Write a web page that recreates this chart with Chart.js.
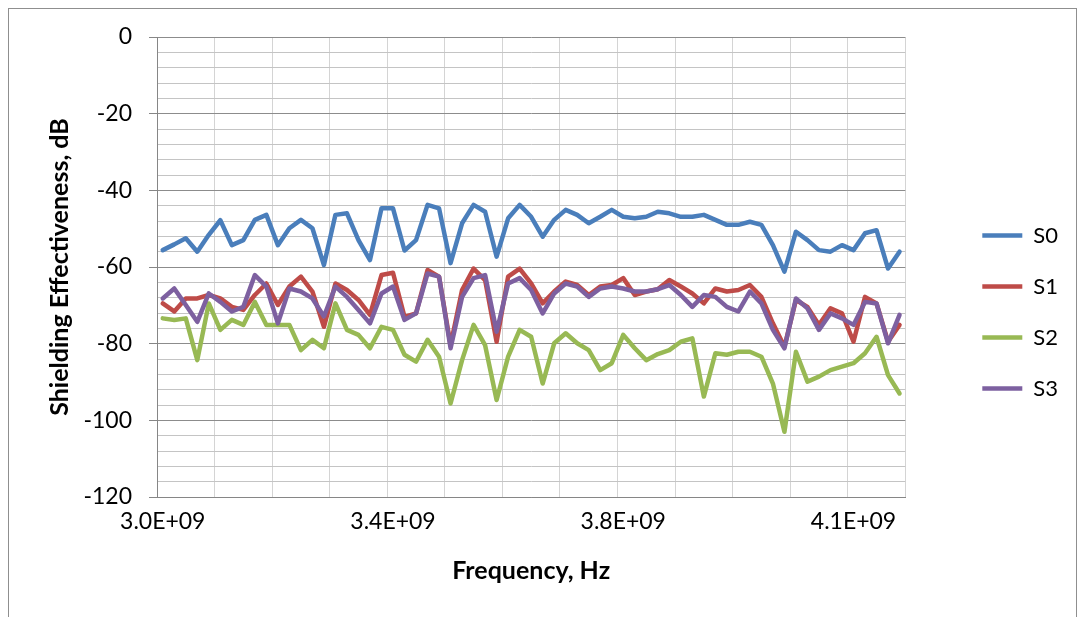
<!DOCTYPE html>
<html>
<head>
<meta charset="utf-8">
<script src="https://cdn.jsdelivr.net/npm/chart.js@4/dist/chart.umd.min.js"></script>
<style>
  body { margin: 0; background: #fff; }
  #wrap { position: relative; width: 1084px; height: 617px; overflow: hidden; }
  #frame { position: absolute; left: 8px; top: 8px; width: 1067px; height: 640px; border: 1px solid #8f8f8f; pointer-events: none; }
  canvas { position: absolute; left: 0; top: 0; }
</style>
</head>
<body>
<div id="wrap">
  <canvas id="se-chart" width="1084" height="617"></canvas>
  <div id="frame"></div>
</div>
<script>
// frequency points, MHz
const freqMHz = [
  3000, 3018.75, 3037.5, 3056.25, 3075, 3093.75, 3112.5, 3131.25, 3150, 3168.75,
  3187.5, 3206.25, 3225, 3243.75, 3262.5, 3281.25, 3300, 3318.75, 3337.5, 3356.25,
  3375, 3393.75, 3412.5, 3431.25, 3450, 3468.75, 3487.5, 3506.25, 3525, 3543.75,
  3562.5, 3581.25, 3600, 3618.75, 3637.5, 3656.25, 3675, 3693.75, 3712.5, 3731.25,
  3750, 3768.75, 3787.5, 3806.25, 3825, 3843.75, 3862.5, 3881.25, 3900, 3918.75,
  3937.5, 3956.25, 3975, 3993.75, 4012.5, 4031.25, 4050, 4068.75, 4087.5, 4106.25,
  4125, 4143.75, 4162.5, 4181.25, 4200
];

const s0 = [
  -55.6, -54.1, -52.5, -56.0, -51.6, -47.8, -54.3, -53.0, -47.7, -46.4,
  -54.3, -49.9, -47.7, -49.9, -59.5, -46.4, -46.0, -53.0, -58.2, -44.7,
  -44.7, -55.7, -53.0, -43.8, -44.7, -59.0, -48.6, -43.8, -45.6, -57.3,
  -47.3, -43.8, -46.9, -52.1, -47.7, -45.1, -46.4, -48.6, -46.9, -45.1,
  -46.9, -47.3, -46.9, -45.6, -46.0, -46.9, -46.9, -46.4, -47.7, -49.0,
  -49.0, -48.2, -49.0, -54.3, -61.2, -50.8, -53.0, -55.6, -56.0, -54.3,
  -55.6, -51.2, -50.4, -60.4, -56.0
];
const s1 = [
  -69.5, -71.6, -68.2, -68.2, -67.3, -68.2, -70.4, -71.2, -67.3, -64.3,
  -69.9, -65.1, -62.5, -66.4, -75.6, -64.3, -66.0, -68.6, -72.5, -62.1,
  -61.5, -73.0, -72.1, -60.8, -62.5, -80.4, -66.0, -60.4, -63.4, -79.5,
  -62.5, -60.4, -64.3, -69.5, -66.4, -63.8, -64.7, -67.3, -65.1, -64.7,
  -62.9, -67.3, -66.4, -65.8, -63.4, -65.1, -66.9, -69.5, -65.6, -66.4,
  -66.0, -64.7, -67.8, -74.7, -80.8, -68.6, -70.4, -75.1, -70.8, -72.1,
  -79.5, -67.8, -69.5, -79.5, -75.1
];
const s2 = [
  -73.4, -73.8, -73.4, -84.3, -69.5, -76.4, -73.8, -75.1, -69.1, -75.1,
  -75.1, -75.1, -81.7, -79.0, -81.2, -69.5, -76.4, -77.7, -81.2, -75.6,
  -76.4, -82.9, -84.7, -79.0, -83.4, -95.6, -84.3, -75.1, -80.4, -94.7,
  -83.4, -76.4, -78.2, -90.4, -79.9, -77.3, -79.9, -81.7, -86.9, -85.1,
  -77.7, -81.2, -84.3, -82.7, -81.7, -79.5, -78.6, -93.8, -82.5, -82.9,
  -82.1, -82.1, -83.4, -90.4, -103.0, -82.1, -89.9, -88.6, -86.9, -86.0,
  -85.1, -82.5, -78.2, -88.2, -93.0
];
const s3 = [
  -68.2, -65.6, -69.9, -74.3, -66.9, -69.1, -71.6, -70.4, -62.1, -65.1,
  -74.7, -65.6, -66.4, -68.2, -72.9, -65.1, -67.8, -71.2, -74.7, -66.9,
  -65.1, -73.8, -72.1, -61.7, -62.5, -81.2, -67.8, -62.9, -62.1, -76.9,
  -64.3, -62.9, -66.0, -72.1, -66.9, -64.3, -65.1, -67.8, -65.6, -65.1,
  -65.6, -66.4, -66.4, -65.8, -64.7, -67.3, -70.4, -67.3, -67.8, -70.4,
  -71.6, -66.4, -69.5, -76.4, -81.2, -68.2, -70.8, -76.4, -72.1, -73.4,
  -75.1, -69.1, -69.5, -79.9, -72.5
];

const seriesNames = ['S0', 'S1', 'S2', 'S3'];
const seriesColors = ['#4A7EBB', '#BE4B48', '#98B954', '#7D60A0'];

const yMin = -120;
const yMax = 0;
const yStep = 4;
const yLabelEvery = 20;
const xGridEvery = 5;
const xLabelEvery = 20;

// Excel style scientific label, e.g. 3.4E+09
function sci(hz) {
  const e = Math.floor(Math.log10(hz));
  const m = hz / Math.pow(10, e);
  return m.toFixed(1) + 'E+' + String(e).padStart(2, '0');
}

const font = 'Lato';
const axisGrey = '#868686';

const datasets = [s0, s1, s2, s3].map((vals, i) => ({
  label: seriesNames[i],
  data: vals,
  borderColor: seriesColors[i],
  backgroundColor: seriesColors[i],
  borderWidth: 4.5,
  pointRadius: 0,
  tension: 0,
  borderJoinStyle: 'round',
  borderCapStyle: 'round',
  order: 3 - i
}));

new Chart(document.getElementById('se-chart'), {
  type: 'line',
  data: { labels: freqMHz.map(f => f * 1e6), datasets: datasets },
  options: {
    responsive: false,
    animation: false,
    devicePixelRatio: 1,
    layout: { padding: { left: 40, top: 37, right: 16, bottom: 30 } },
    plugins: {
      tooltip: { enabled: false },
      legend: {
        position: 'right',
        labels: {
          usePointStyle: true,
          pointStyle: 'line',
          pointStyleWidth: 40,
          padding: 29,
          color: '#000',
          font: { family: font, size: 22 },
          sort: (a, b) => a.datasetIndex - b.datasetIndex
        }
      }
    },
    scales: {
      x: {
        type: 'category',
        offset: true,
        grid: {
          offset: true,
          drawTicks: false,
          color: ctx => (ctx.index === undefined || ctx.index % xGridEvery === 0) ? '#d4d4d4' : 'rgba(0,0,0,0)'
        },
        border: { color: axisGrey, width: 1 },
        ticks: {
          autoSkip: false,
          maxRotation: 0,
          minRotation: 0,
          padding: 11,
          color: '#000',
          font: { family: font, size: 23 },
          callback: (v, i) => i % xLabelEvery === 0 ? sci(freqMHz[i] * 1e6) : ''
        },
        title: {
          display: true,
          text: 'Frequency, Hz',
          color: '#000',
          font: { family: font, size: 25, weight: 'bold' },
          padding: { top: 0, bottom: 1 }
        },
        afterFit: s => { s.height = 90; }
      },
      y: {
        min: yMin,
        max: yMax,
        grid: {
          color: ctx => ctx.tick.value % yLabelEvery === 0 ? '#8c8c8c' : '#c4c4c4',
          tickColor: ctx => ctx.tick.value % yLabelEvery === 0 ? axisGrey : 'rgba(0,0,0,0)',
          tickLength: 8
        },
        border: { color: axisGrey, width: 1 },
        ticks: {
          autoSkip: false,
          stepSize: yStep,
          padding: 17,
          color: '#000',
          font: { family: font, size: 23 },
          callback: v => v % yLabelEvery === 0 ? String(v) : ''
        },
        title: {
          display: true,
          text: 'Shielding Effectiveness, dB',
          color: '#000',
          font: { family: font, size: 25, weight: 'bold' },
          padding: { top: 5, bottom: 0 }
        },
        afterFit: s => { s.width = 117; }
      },
      // empty spacer between plot and legend
      gap: {
        type: 'linear',
        position: 'right',
        grid: { display: false },
        border: { display: false },
        ticks: { display: false },
        afterFit: s => { s.width = 48; }
      }
    }
  }
});
</script>
</body>
</html>
